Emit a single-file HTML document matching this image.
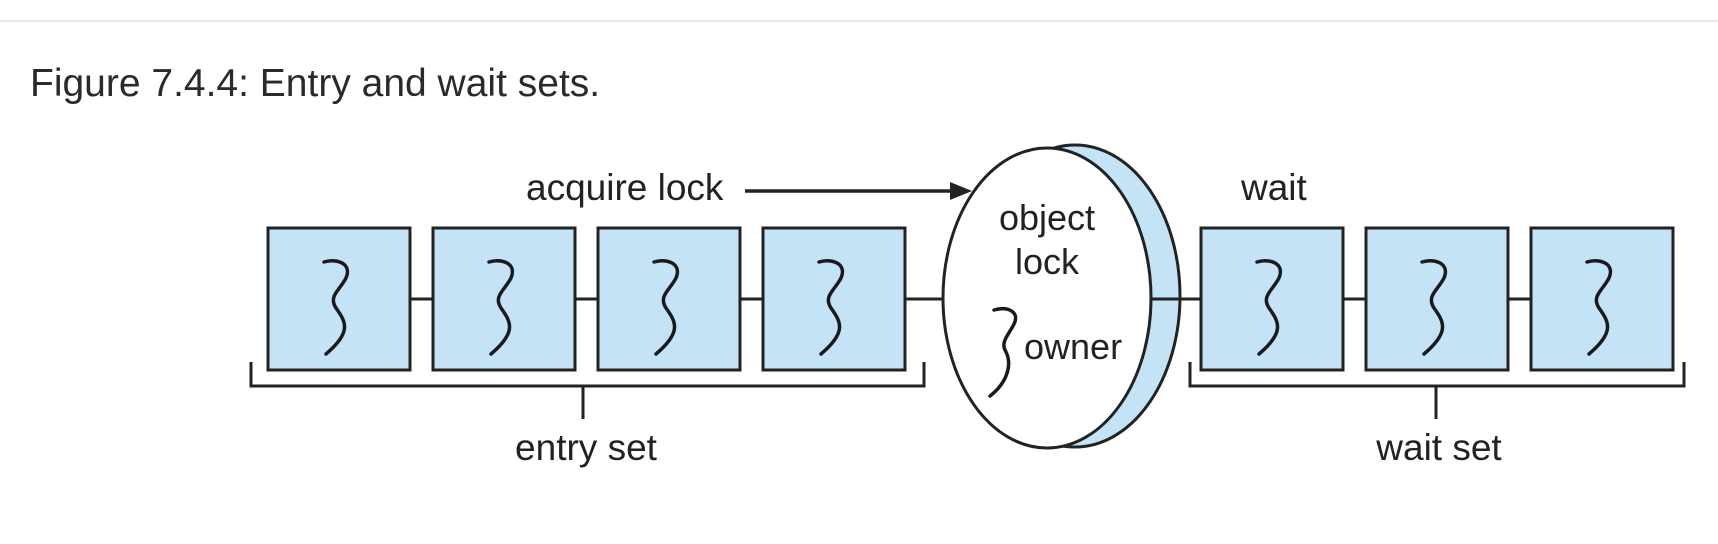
<!DOCTYPE html>
<html><head><meta charset="utf-8"><style>
html,body{margin:0;padding:0;background:#fff;width:1718px;height:544px;overflow:hidden}
svg{display:block}
text{font-family:"Liberation Sans",sans-serif;fill:#222}
</style></head><body>
<svg width="1718" height="544" viewBox="0 0 1718 544">
<defs>
<path id="sq" d="M56,34 C70,30 84,36 78,50 C72,62 60,68 68,80 C78,94 84,104 58,126" fill="none" stroke="#1a1a1a" stroke-width="3.5" stroke-linecap="round"/>
</defs>
<line x1="0" y1="21" x2="1718" y2="21" stroke="#e6e6e6" stroke-width="2"/>
<text x="30" y="96" font-size="39" style="fill:#2a2a2a">Figure 7.4.4: Entry and wait sets.</text>

<line x1="411" y1="299" x2="1201" y2="299" stroke="#222" stroke-width="3"/>
<line x1="1343" y1="299" x2="1531" y2="299" stroke="#222" stroke-width="3"/>

<g>
<g transform="translate(268,228)"><rect width="142" height="142" fill="#c5e3f6" stroke="#222" stroke-width="3"/><use href="#sq"/></g>
<g transform="translate(433,228)"><rect width="142" height="142" fill="#c5e3f6" stroke="#222" stroke-width="3"/><use href="#sq"/></g>
<g transform="translate(598,228)"><rect width="142" height="142" fill="#c5e3f6" stroke="#222" stroke-width="3"/><use href="#sq"/></g>
<g transform="translate(763,228)"><rect width="142" height="142" fill="#c5e3f6" stroke="#222" stroke-width="3"/><use href="#sq"/></g>
</g>
<g>
<g transform="translate(1201,228)"><rect width="142" height="142" fill="#c5e3f6" stroke="#222" stroke-width="3"/><use href="#sq"/></g>
<g transform="translate(1366,228)"><rect width="142" height="142" fill="#c5e3f6" stroke="#222" stroke-width="3"/><use href="#sq"/></g>
<g transform="translate(1531,228)"><rect width="142" height="142" fill="#c5e3f6" stroke="#222" stroke-width="3"/><use href="#sq"/></g>
</g>

<g>
<ellipse cx="1075" cy="296" rx="105" ry="151" fill="#c5e3f6" stroke="#222" stroke-width="3"/>
<ellipse cx="1047" cy="298" rx="104" ry="150" fill="#fff" stroke="#222" stroke-width="3"/>
<line x1="1151" y1="299" x2="1180" y2="299" stroke="#222" stroke-width="3"/>
<text x="1047" y="230" font-size="36" text-anchor="middle">object</text>
<text x="1047" y="274" font-size="36" text-anchor="middle">lock</text>
<path d="M994,310 C1008,306 1020,312 1014,324 C1008,336 1000,342 1006,352 C1012,364 1008,382 990,396" fill="none" stroke="#1a1a1a" stroke-width="3.5" stroke-linecap="round"/>
<text x="1024" y="359" font-size="36">owner</text>
</g>

<text x="526" y="200" font-size="37">acquire lock</text>
<line x1="745" y1="191" x2="955" y2="191" stroke="#222" stroke-width="3.5"/>
<polygon points="972,191 950,182 950,200" fill="#222"/>
<text x="1241" y="200" font-size="37">wait</text>

<path d="M251,362 V386 H924 V362 M583,386 V419" fill="none" stroke="#222" stroke-width="3"/>
<text x="586" y="460" font-size="37" text-anchor="middle">entry set</text>
<path d="M1190,362 V386 H1684 V362 M1436,386 V419" fill="none" stroke="#222" stroke-width="3"/>
<text x="1439" y="460" font-size="37" text-anchor="middle">wait set</text>
</svg>
</body></html>
